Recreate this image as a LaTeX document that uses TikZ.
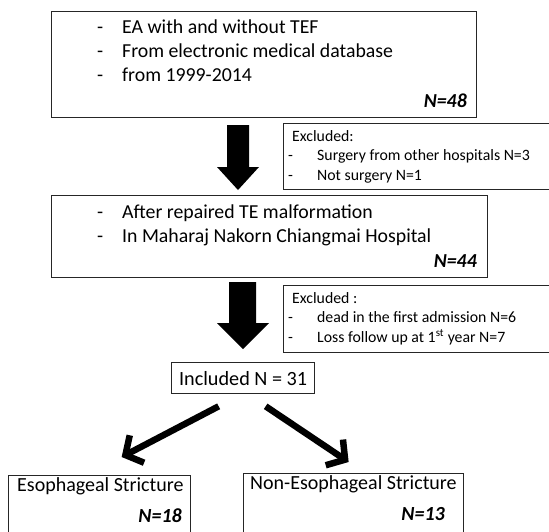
\documentclass[tikz,border=0pt]{standalone}
\usepackage{fontspec}
\setmainfont{Carlito}
\usetikzlibrary{arrows.meta}
\begin{document}
\begin{tikzpicture}[x=1pt,y=-1pt,
  frame/.style={draw=black!85, line width=1.3pt, anchor=north west, inner sep=0pt},
  txt/.style={anchor=base west, inner sep=0pt, font=\fontsize{19.8}{24}\selectfont},
  small/.style={anchor=base west, inner sep=0pt, font=\fontsize{15.8}{19}\selectfont},
  count/.style={anchor=base east, inner sep=0pt, font=\fontsize{19.8}{24}\selectfont\bfseries\itshape},
  blockarrow/.style={fill=black},
  splitarrow/.style={line width=6.5pt, -{Straight Barb[length=13pt,width=31pt]}}]

\useasboundingbox (0,0) rectangle (549,531);

% top box
\node[frame, minimum width=425pt, minimum height=106pt] (src) at (51,11) {};
\node[txt] (srcdA) at (97,33.5) {-};
\node[txt] (srcA) at (122,33.5) {EA with and without TEF};
\node[txt] (srcdB) at (97,57.5) {-};
\node[txt] (srcB) at (122,57.5) {From electronic medical database};
\node[txt] (srcdC) at (97,81.5) {-};
\node[txt] (srcC) at (122,81.5) {from 1999-2014};
\node[count] (srcN) at (467,107) {N=48};

\fill[blockarrow] (227,125) -- (249,125) -- (249,167) -- (259,167) -- (238,190) -- (217,167) -- (227,167) -- cycle;

% first exclusion
\node[frame, minimum width=270pt, minimum height=66pt] (exclA) at (283,123) {};
\node[small] (exclAhead) at (292,141) {Excluded:};
\node[small] (exclAdA) at (288,160.5) {-};
\node[small] (exclAa) at (317,160.5) {Surgery from other hospitals N=3};
\node[small] (exclAdB) at (288,180) {-};
\node[small] (exclAb) at (317,180) {Not surgery N=1};

% second box
\node[frame, minimum width=436pt, minimum height=82pt] (cohort) at (51,195) {};
\node[txt] (cohdA) at (97,218) {-};
\node[txt] (cohA) at (122,218) {After repaired TE malformation};
\node[txt] (cohdB) at (97,242) {-};
\node[txt] (cohB) at (122,242) {In Maharaj Nakorn Chiangmai Hospital};
\node[count] (cohN) at (477,267) {N=44};

\fill[blockarrow] (229,282) -- (256,282) -- (256,323) -- (269,323) -- (243,349) -- (217,323) -- (229,323) -- cycle;

% second exclusion
\node[frame, minimum width=270pt, minimum height=67pt] (exclB) at (283,285) {};
\node[small] (exclBhead) at (292,303) {Excluded :};
\node[small] (exclBdA) at (288,322.5) {-};
\node[small] (exclBa) at (317,322.5) {dead in the first admission N=6};
\node[small] (exclBdB) at (288,342) {-};
\node[small] (exclBb) at (317,342) {Loss follow up at 1\textsuperscript{st} year N=7};

% included
\node[frame, minimum width=143pt, minimum height=31pt] (incl) at (171,362) {};
\node[font=\fontsize{20.2}{24}\selectfont, inner sep=0pt] (incltxt) at (incl.center) {Included N = 31};

% outcome boxes
\node[frame, minimum width=182pt, minimum height=70pt] (esoph) at (8,475) {};
\node[txt, font=\fontsize{20}{24}\selectfont] (esophtxt) at (17,491) {Esophageal Stricture};
\node[count, font=\fontsize{20}{24}\selectfont\bfseries\itshape] (esophN) at (182,522) {N=18};

\node[frame, minimum width=220pt, minimum height=70pt] (nonesoph) at (243,473) {};
\node[txt, font=\fontsize{20}{24}\selectfont] (nonesophtxt) at (250,489) {Non-Esophageal Stricture};
\node[count, font=\fontsize{20}{24}\selectfont\bfseries\itshape] (nonesophN) at (445,520) {N=13};

\draw[splitarrow] ([shift={(-24.5,12)}]incl.south) -- ([shift={(22,-18)}]esoph.north);
\draw[splitarrow] ([shift={(22.5,12)}]incl.south) -- ([shift={(-5,-11)}]nonesoph.north);

\end{tikzpicture}
\end{document}
